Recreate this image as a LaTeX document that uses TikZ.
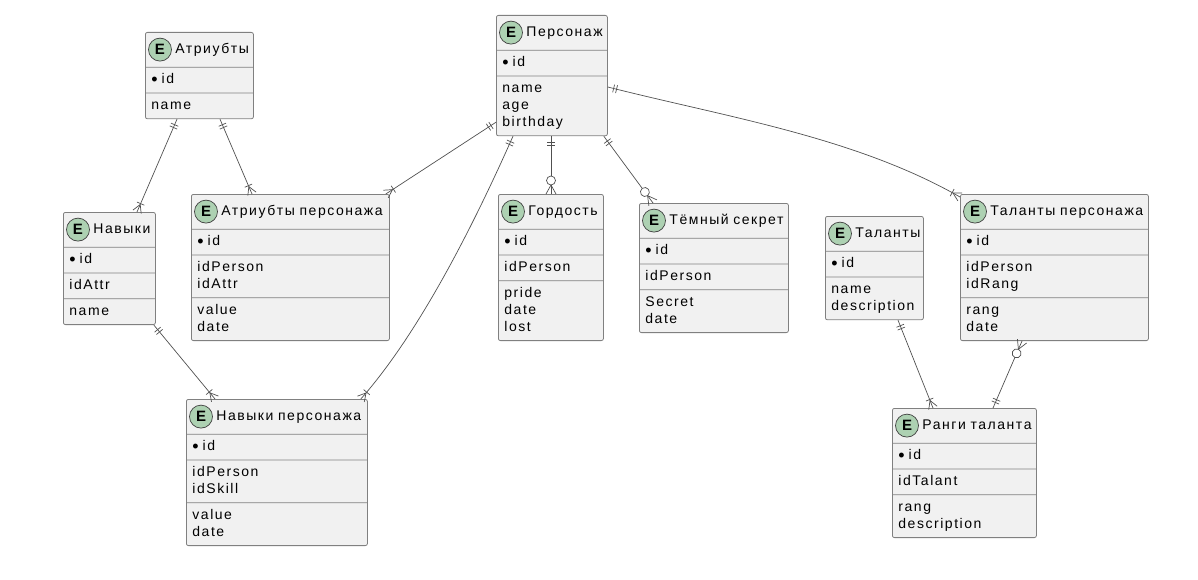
\documentclass[tikz,border=0pt]{standalone}
\usepackage{fontspec}
\newfontfamily\erfont[LetterSpace=11]{Liberation Sans}
\usetikzlibrary{
calc,
decorations.markings,
shapes.multipart,
}
\definecolor{boxfill}{HTML}{F1F1F1}
\definecolor{boxline}{HTML}{808080}
\definecolor{spotfill}{HTML}{ADD1B2}
\definecolor{relline}{HTML}{505050}
\newcommand{\ehead}[1]{\mbox{\rule[-9pt]{0pt}{26pt}\hspace*{24pt}#1}}
\newcommand{\fld}[1]{\strut#1}
\newcommand{\idfld}{\strut\raisebox{-2pt}{\fontsize{18}{17}\selectfont•}\hspace{4pt}id}
\tikzset{
entity/.style={rectangle split, rectangle split parts=#1, rectangle split draw splits=true,
  draw=boxline, fill=boxfill, rounded corners=2pt, line width=0.8pt, anchor=north west,
  align=left, inner xsep=6pt, inner ysep=4pt, font=\erfont\fontsize{14}{17}\selectfont},
spot/.style={circle, draw=black!75, fill=spotfill, minimum size=23pt, inner sep=0pt,
  line width=0.7pt, font=\erfont\bfseries\fontsize{15}{17}\selectfont},
rel/.style={draw=relline, line width=0.7pt},
from one/.style={postaction={decorate, decoration={markings,
  mark=at position 6pt with {\draw[relline, line width=0.7pt] (0pt,-4pt) -- (0pt,4pt);},
  mark=at position 9pt with {\draw[relline, line width=0.7pt] (0pt,-4pt) -- (0pt,4pt);}}}},
to many/.style={postaction={decorate, decoration={markings,
  mark=at position -9pt with {\draw[relline, line width=0.7pt] (0pt,-4pt) -- (0pt,4pt);},
  mark=at position -8pt with {\draw[relline, line width=0.7pt] (0pt,0pt) -- (8pt,4.5pt) (0pt,0pt) -- (8pt,-4.5pt);}}}},
to zmany/.style={postaction={decorate, decoration={markings,
  mark=at position -13.5pt with {\draw[relline, line width=0.7pt, fill=white] (0pt,0pt) circle (4.5pt);},
  mark=at position -9pt with {\draw[relline, line width=0.7pt] (0pt,0pt) -- (9pt,5pt) (0pt,0pt) -- (9pt,-5pt);}}}},
}
\begin{document}
\begin{tikzpicture}[x=1pt, y=-1pt]
\useasboundingbox (0,0) rectangle (1198,580);
% entities
\node[entity=3, text width=96pt] (attr) at (145,32) {\ehead{Атриубты}
  \nodepart{two}\idfld
  \nodepart{three}\fld{name}};
\node[entity=3, text width=99pt] (persona) at (496,15) {\ehead{Персонаж}
  \nodepart{two}\idfld
  \nodepart{three}\fld{name}\\\fld{age}\\\fld{birthday}};
\node[entity=4, text width=80pt] (skill) at (63,212) {\ehead{Навыки}
  \nodepart{two}\idfld
  \nodepart{three}\fld{idAttr}
  \nodepart{four}\fld{name}};
\node[entity=4, text width=186pt] (pattr) at (191,194) {\ehead{Атриубты персонажа}
  \nodepart{two}\idfld
  \nodepart{three}\fld{idPerson}\\\fld{idAttr}
  \nodepart{four}\fld{value}\\\fld{date}};
\node[entity=4, text width=93pt] (pride) at (498,194) {\ehead{Гордость}
  \nodepart{two}\idfld
  \nodepart{three}\fld{idPerson}
  \nodepart{four}\fld{pride}\\\fld{date}\\\fld{lost}};
\node[entity=4, text width=137pt] (secret) at (639,203) {\ehead{Тёмный секрет}
  \nodepart{two}\idfld
  \nodepart{three}\fld{idPerson}
  \nodepart{four}\fld{Secret}\\\fld{date}};
\node[entity=3, text width=86pt] (talent) at (825,216) {\ehead{Таланты}
  \nodepart{two}\idfld
  \nodepart{three}\fld{name}\\\fld{description}};
\node[entity=4, text width=176pt] (ptalent) at (960,194) {\ehead{Таланты персонажа}
  \nodepart{two}\idfld
  \nodepart{three}\fld{idPerson}\\\fld{idRang}
  \nodepart{four}\fld{rang}\\\fld{date}};
\node[entity=4, text width=132pt] (rank) at (892,408) {\ehead{Ранги таланта}
  \nodepart{two}\idfld
  \nodepart{three}\fld{idTalant}
  \nodepart{four}\fld{rang}\\\fld{description}};
\node[entity=4, text width=169pt] (pskill) at (186,399) {\ehead{Навыки персонажа}
  \nodepart{two}\idfld
  \nodepart{three}\fld{idPerson}\\\fld{idSkill}
  \nodepart{four}\fld{value}\\\fld{date}};
\foreach \e in {attr, persona, skill, pattr, pride, secret, talent, ptalent, rank, pskill}
  \node[spot] (\e-spot) at ($(\e.north west)!0.5!(\e.text split west)+(15,0)$) {E};
% relations
\draw[rel, from one, to many] ([xshift=32pt]attr.south west) -- ([xshift=74pt]skill.north west);
\draw[rel, from one, to many] ([xshift=75pt]attr.south west) -- ([xshift=61pt]pattr.north west);
\draw[rel, from one, to many] ([yshift=14pt]persona.south west) -- ([xshift=-4pt]pattr.north east);
\draw[rel, from one, to many] ([xshift=17pt]persona.south west) .. controls (474,224) and (420,332) .. ([xshift=-7pt]pskill.north east);
\draw[rel, from one, to many] ([xshift=-2pt]skill.south east) -- ([xshift=29pt]pskill.north west);
\draw[rel, from one, to zmany] ([xshift=55pt]persona.south west) -- ([xshift=53pt]pride.north west);
\draw[rel, from one, to zmany] ([xshift=-4pt]persona.south east) -- ([xshift=14pt]secret.north west);
\draw[rel, from one, to many] ([yshift=-72pt]persona.north east) .. controls (726,117) and (855,137) .. ([yshift=-3pt]ptalent.north west);
\draw[rel, from one, to many] ([xshift=73pt]talent.south west) -- ([xshift=41pt]rank.north west);
\draw[rel, from one, to zmany] ([xshift=101pt]rank.north west) -- ([xshift=62pt]ptalent.south west);
\end{tikzpicture}
\end{document}
